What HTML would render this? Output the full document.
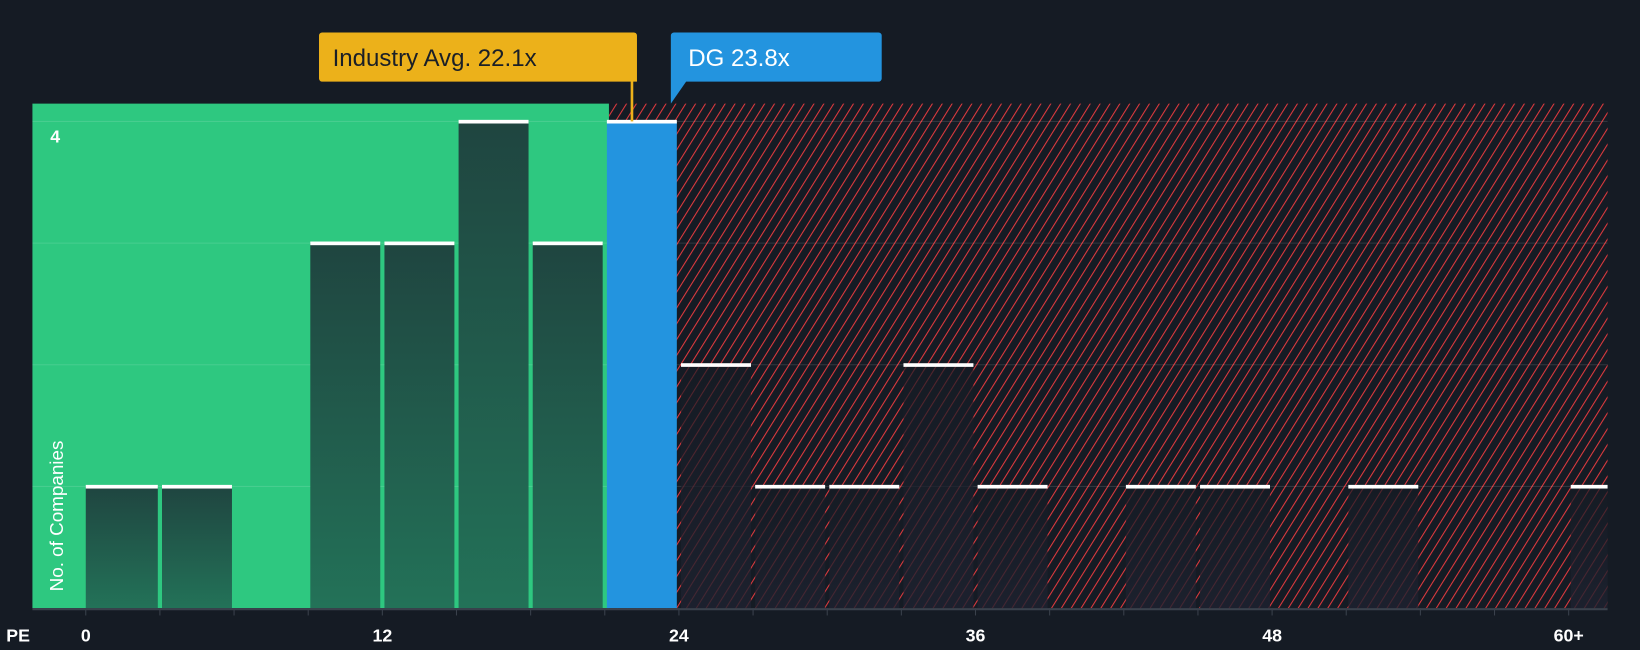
<!DOCTYPE html>
<html><head><meta charset="utf-8"><style>
html,body{margin:0;padding:0;background:#151b24;}
svg{display:block;font-family:"Liberation Sans",sans-serif;}
</style></head><body>
<svg id="chart" width="1640" height="650" viewBox="0 0 1568 621" preserveAspectRatio="none" xmlns="http://www.w3.org/2000/svg">
<defs>
<pattern id="hatch" patternUnits="userSpaceOnUse" width="8" height="8" patternTransform="rotate(32)">
<rect width="8" height="8" fill="#151b24"/>
<line x1="0" y1="0" x2="0" y2="8" stroke="#e03a3e" stroke-width="2"/>
</pattern>
<linearGradient id="gbar" x1="0" y1="0" x2="0" y2="1">
<stop offset="0" stop-color="#1f4540"/><stop offset="1" stop-color="#237258"/>
</linearGradient>
<linearGradient id="rbar" x1="0" y1="0" x2="0" y2="1">
<stop offset="0" stop-color="#151b24" stop-opacity="0.68"/><stop offset="1" stop-color="#1e2230" stop-opacity="0.8"/>
</linearGradient>
</defs>
<g id="plot"></g>
</svg>
<script>
const binStarts=[0,3,6,9,12,15,18,21,24,27,30,33,36,39,42,45,48,51,54,57,60];
const counts=[1,1,0,3,3,4,3,4,2,1,1,2,1,0,1,1,0,1,0,0,1];
const tickLabels=["0","12","24","36","48","60+"];
const tickValues=[0,12,24,36,48,60];
const industryAvg=22.1;
const companyPE=23.8;
const companyBin=21;
const yTicks=[1,2,3,4];

const NS="http://www.w3.org/2000/svg";
const g=document.getElementById('plot');
const X0=82, PXU=23.63, BASE=581, PXC=116.25, LEFT=31, RIGHT=1537, TOP=99;
const x=v=>X0+v*PXU;
const y=c=>BASE-c*PXC;
function mk(tag,attrs){const e=document.createElementNS(NS,tag);for(const k in attrs)e.setAttribute(k,attrs[k]);g.appendChild(e);return e;}

const greenEnd=x(companyBin)+4;
let e=mk('rect',{x:LEFT,y:TOP,width:greenEnd-LEFT,height:BASE-TOP,fill:'#2ec880'});


e=mk('rect',{x:greenEnd,y:TOP,width:RIGHT-greenEnd,height:BASE-TOP,fill:'url(#hatch)'});



yTicks.forEach(t=>{
  const l=mk('line',{x1:LEFT,x2:RIGHT,y1:y(t),y2:y(t),stroke:'rgba(255,255,255,0.12)','stroke-width':1});
  
  
});

binStarts.forEach((b,i)=>{
  const c=counts[i]; if(!c) return;
  const x1=x(b)+(i===0?0:2), x2=Math.min(x(b+3)-2,RIGHT);
  const isCo=b===companyBin;
  const fill=isCo?'#2394df':(b<companyBin?'url(#gbar)':'url(#rbar)');
  const r=mk('rect',{x:x1,y:y(c),width:x2-x1,height:BASE-y(c),fill:fill});
  
  
  const cap=mk('rect',{x:x1,y:y(c)-1.5,width:x2-x1,height:3.5,fill:'#ffffff'});
  
  
});

e=mk('line',{x1:LEFT,x2:RIGHT,y1:BASE+1,y2:BASE+1,stroke:'#3a414c','stroke-width':2});


for(let v=0;v<=60;v+=3){
  const t=mk('line',{x1:x(v),x2:x(v),y1:BASE,y2:BASE+7,stroke:'#3a414c','stroke-width':1});
  
  
}
tickValues.forEach((v,i)=>{
  const t=mk('text',{x:x(v),y:613,fill:'#ffffff','font-size':17,'text-anchor':'middle','font-weight':'bold'});
  t.textContent=tickLabels[i];
  
  
});
e=mk('text',{x:6,y:613,fill:'#ffffff','font-size':17,'font-weight':'bold'});e.textContent='PE';


e=mk('text',{x:48,y:136,fill:'#ffffff','font-size':17,'font-weight':'bold'});e.textContent='4';


e=mk('text',{x:0,y:0,fill:'#ffffff','font-size':18,transform:'translate(60,565) rotate(-90)'});e.textContent='No. of Companies';



const ia=x(industryAvg);
e=mk('path',{d:`M305,34 a3,3 0 0 1 3,-3 H606 a3,3 0 0 1 3,3 V78 H600 L${ia},${y(4)} L600,78 H308 a3,3 0 0 1 -3,-3 Z`,fill:'#ecb11a'});


e=mk('line',{x1:ia,x2:ia,y1:70,y2:y(4),stroke:'#ecb11a','stroke-width':2.5});


e=mk('text',{x:318,y:63,fill:'#1a1f27','font-size':23});e.textContent='Industry Avg. 22.1x';


const cx=x(companyPE)-3;
e=mk('path',{d:`M${cx},${TOP} L${cx},34 a3,3 0 0 1 3,-3 H840 a3,3 0 0 1 3,3 V75 a3,3 0 0 1 -3,3 H656 Z`,fill:'#2394df'});


e=mk('text',{x:658,y:63,fill:'#ffffff','font-size':23});e.textContent='DG 23.8x';


</script>
</body></html>
